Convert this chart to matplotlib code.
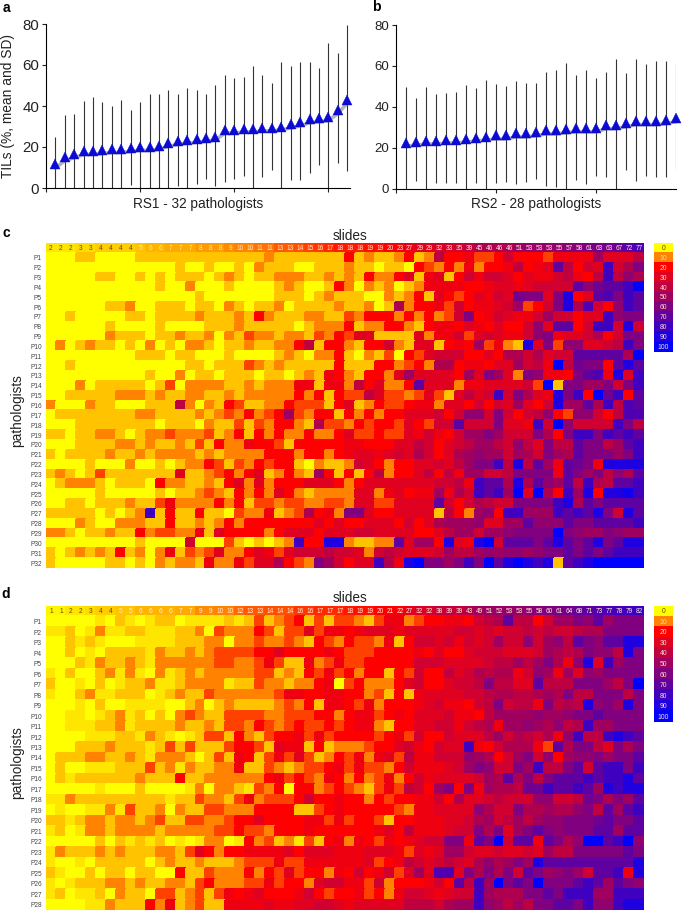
import numpy as np
import matplotlib
matplotlib.use("Agg")
import matplotlib.pyplot as plt
from matplotlib.colors import LinearSegmentedColormap
from matplotlib.transforms import ScaledTranslation

plt.rcParams['font.family'] = ['Liberation Sans', 'DejaVu Sans']

W, H = 685, 911

# panel a
a_mean = [11.5, 15, 16.5, 18, 18, 18.5, 19, 19, 19.5, 20, 20, 20.5, 22, 23, 23.5, 24,
          24.5, 25, 28.5, 28.5, 29, 29, 29.5, 29.5, 30, 31, 32, 33.5, 34, 34.5, 38, 43]
a_upper = [25, 35.8, 36, 42.6, 44.4, 42, 40, 42.8, 38, 42, 45.8, 46, 47.6, 46, 48.6, 47.8,
           46, 50, 55, 53.8, 54, 59.7, 55, 51.4, 61.5, 59.3, 61.3, 61.3, 58.5, 70.7, 66, 79.7]
a_lower = [0, 0, 0, 0, 0, 0, 0, 0, 1.5, 0, 0, 0, 0, 1, 0, 2,
           4.3, 1, 3, 4.5, 5.7, 0, 5.3, 9, 0, 4, 4, 7.3, 11.3, 0, 12, 8.4]

# panel b
b_mean = [22.5, 23, 23.5, 23.5, 24, 24, 24.5, 25, 25.5, 26, 26, 27, 27, 27.5,
          28.5, 28.5, 29, 29.5, 29.5, 29.5, 31, 31, 32, 33, 33, 33, 33.5, 34.5]
b_upper = [49.5, 44.5, 49.7, 46.4, 47, 47.2, 50.6, 49.2, 53, 51, 50.3, 52.4, 51.5, 51.5,
           57, 58, 61.2, 55.5, 58, 54, 57, 63.5, 56.3, 63.3, 61, 62.2, 62.2, 61]
b_lower = [0, 4, 0, 3, 3, 3, 0, 3, 0, 3, 3.5, 2.5, 3.5, 4.7,
           1.3, 0.8, 0, 4.4, 2.3, 6, 5.9, 0, 9, 3.6, 6, 5.5, 5.9, 9]

# heatmap column headers (mean per slide)
c_slides = [2, 2, 2, 3, 3, 4, 4, 4, 4, 5, 6, 6, 7, 7, 7, 8, 8, 8, 9, 10, 10, 11, 11, 13, 13, 14, 15, 16, 17, 18,
            18, 18, 19, 19, 20, 23, 27, 29, 29, 32, 33, 35, 39, 45, 46, 46, 46, 51, 53, 53, 53, 55, 57, 58, 61, 63, 63, 67, 72, 77]
d_slides = [1, 1, 2, 2, 3, 4, 4, 5, 5, 6, 6, 6, 6, 7, 7, 9, 9, 10, 10, 12, 13, 13, 14, 14, 14, 16, 16, 17, 17, 17,
            18, 19, 19, 20, 21, 22, 27, 32, 32, 38, 39, 39, 43, 49, 51, 52, 53, 53, 55, 58, 60, 61, 64, 68, 71, 73, 77, 78, 79, 82]
legend_values = [0, 10, 20, 30, 40, 50, 60, 70, 80, 90, 100]

# scores: one char per cell, 0-9a-k = 0,5,...100 and y = 2
c_rows = [
    "0001100001 1111111111 1121111111 4121124128 4453347444 35555a6668",
    "0000000000 0001001001 0211100111 2110110432 4252445845 6e8476g79c",
    "0000011001 0101110121 0112221121 2142246156 1475776465 578548g8b9",
    "0000000000 0100200010 0001210014 2021201255 5544566567 777ebdeegk",
    "0000000000 0000010000 0001110121 1100212416 4346576dcc 6ci46efcge",
    "0000001120 0111011021 0112011112 1120192445 3745567a34 7ci9f74bge",
    "0010000011 0111121112 1421112211 3244424242 37c4576557 a77466gbcc",
    "0000001000 0100001112 1111101222 4122442145 546546447b 6ee47gg7i7",
    "0000002111 0112112021 3221221324 3661111625 573676557b c5667947cc",
    "0201211010 2010221011 2112248144 2144721661 454a3521i6 c3bb6678gc",
    "0000000001 1101100010 0001210224 1021304367 7744649979 677eeeee9k",
    "0010000000 0000110111 3212111114 1114423429 9455466a78 5k8dcc4eie",
    "0000000000 1002011011 1011012154 214426a666 64a6ca62cb 554cef5i6g",
    "0002011111 0130222211 2122255155 2846224e66 6255666673 k1ccaac7cg",
    "0011111222 1211221121 2222242414 3386332363 16867g7c96 5icg4kdg4e",
    "2000211000 1118202143 1122433314 6124334552 6647476a64 7iaae9g8fe",
    "0111111112 2111121232 4234a32441 4242446667 47bb7c7478 b43bb748ff",
    "0001111111 1011102113 1324421933 2434436437 7e777c665g 7kb7777gc8",
    "1101122101 2232223124 1424224224 6334336575 47aaca777c 94cggcgege",
    "0001111221 2112131422 5443144444 5544466874 678aa87b86 c88ecc8aeg",
    "1011112112 1222212122 2244424424 5665676974 69abaa7a97 ca9ecccacg",
    "0000100020 0101224313 2434410211 2764244667 68accg8i8e a5edc5iiii",
    "1210131111 1116112342 4612421a41 4148244684 85aa778ccc c5ecac8b9e",
    "0122210111 0422112146 2624446664 2466666667 785gee9i9e bae8g98eeg",
    "0000010000 0101123214 2426421222 266256455a 597gegak6k 94gai4iijg",
    "0011011121 1352222424 1332332233 266336666e 7479877ccc cgi9eceeee",
    "1111101012 g141141103 2251239452 cc64466661 842ab4ggaa agegeic7ie",
    "0002100222 1141121242 4444444646 4466647469 aaab66aaeb bbecceeeeg",
    "2210112114 2332251644 4424666466 6776666446 8aa7aabccc ckcbaacbaa",
    "0000000001 0000700031 01012g44ii 21122e6aa4 i65ik7eeec eieceiceii",
    "1012121412 0251323622 4653677787 7627876667 a88ababbab ccececeggg",
    "1000001101 0212215225 3669432ca7 466g95ikcc acgckeikig i1egikkkkk",
]
d_rows = [
    "00000y01y0 y110yyyy1y 1312341313 3213552344 554789e884 7aacbeaccc",
    "yy10y2yy11 yyy1120322 2431336355 4566656666 6776767787 877899cccc",
    "001y1y000y yyy1112202 2322321432 4332514776 75767a77b7 ab8ecbeeii",
    "0010y01111 y211212333 3446444454 3334444546 4467776667 a989cbb8ic",
    "0001y21121 y222222332 2353115235 3344444777 6666788a8a c95bi6gacc",
    "y010012y2y 02y1212222 2331214353 4244143744 867989957b a5a6bacccc",
    "100y010y11 2yy12222y1 1322122450 3422246744 6778c8866e 888ccca8ck",
    "y0012yy111 0y12113222 2223554455 4423141566 6677899889 a9c88ccc8c",
    "000y0100yy yy00120121 1112324155 4352444567 55478c7885 c898ibcaic",
    "00yy0y12y1 0102321133 3322333442 4553454666 75548aaaab aabccecccc",
    "00yyy112y1 1112112133 2432343343 4552144667 757895aaba 9b89gaaccc",
    "0000yyy11y 21y0y13314 2134453534 4443453744 76668a7987 95bg88gige",
    "0001112111 y131311134 4316551412 2234467547 66g5479995 3e9cc86c9c",
    "0111221121 y222101315 4135363124 3525638557 77ba947ac7 b4abbcacce",
    "0100yyy111 312y211225 1132123345 3533247555 67acb77cag 88ce7eggcg",
    "01y1111112 1114112222 2245343254 2423524756 6667a9e9c8 ceeegeggie",
    "00000y0001 0000y20221 y324044234 321353874a c4c5a998dd geegeaigii",
    "yy21111111 11y1132213 5233347445 4424344557 496678777b b778dc9cae",
    "0y00yy2y31 1202113322 2444411345 4444432556 666b977c99 a99bc8eaeg",
    "11y1221221 2311332234 4644445535 3443144555 6679a78a8a bbcccdecce",
    "y10y221222 2122222334 3324445444 4445648555 677c9c6ace cbccceeaee",
    "00000101y1 y10y0y220y 42312y3145 2543545677 cc5eck7ee5 ec9bkkegkb",
    "y211121211 1221364244 5555646665 5566653656 aa76676676 a88cccccec",
    "y00y011111 0121121112 3335335555 5563458767 8769b9acai eeeeeeeeei",
    "1y00101101 1004113222 4243634425 4745736a6f f6c9c9c7ec abca7eeg5i",
    "y0y1112212 1122134222 3353442677 5537244457 4e8gakceck cccegeaecb",
    "y10yy10211 0331231354 5644457434 4534257765 677ga999cc ecgggaaggg",
    "0000yy2111 4251231155 5565566776 5666668887 9aagba8a8c ceecgbbgii",
]

LEVELS = "0123456789abcdefghijk"


def decode(rows):
    out = []
    for row in rows:
        row = row.replace(" ", "")
        out.append([2 if ch == "y" else LEVELS.index(ch) * 5 for ch in row])
    return np.array(out, dtype=float)


cmap = LinearSegmentedColormap.from_list(
    "tils", [(0, "#ffff00"), (0.1, "#ff8000"), (0.2, "#ff0000"), (1, "#0000ff")])

fig = plt.figure(figsize=(W / 100, H / 100), dpi=100)


def px_axes(x0, y0, x1, y1):
    return fig.add_axes([x0 / W, 1 - y1 / H, (x1 - x0) / W, (y1 - y0) / H])


def draw_means(box, mean, upper, lower, xmax, xticks, label, tick_size):
    ax = px_axes(*box)
    xs = np.arange(1, len(mean) + 1)
    ax.vlines(xs, lower, upper, color="#333333", lw=0.8, zorder=1)
    shadow = ax.transData + ScaledTranslation(0, -2.5 / 72, fig.dpi_scale_trans)
    ax.plot(xs, mean, color="#777777", lw=2.6, alpha=0.55, transform=shadow, zorder=2, clip_on=False)
    ax.plot(xs, mean, ls="none", marker="^", ms=7.8, mfc="#0a0ad2", mec="#0a0ad2", mew=0.3, zorder=3, clip_on=False)
    ax.set_xlim(0, xmax)
    ax.set_ylim(0, 80)
    ax.set_yticks([0, 20, 40, 60, 80])
    ax.set_xticks(xticks)
    ax.set_xticklabels([])
    ax.tick_params(length=3, width=0.8, labelsize=tick_size, pad=2, colors="#222222")
    ax.spines["top"].set_visible(False)
    ax.spines["right"].set_visible(False)
    fig.text((box[0] + box[2]) / 2 / W + (0.0 if xmax > 30 else 0.0), 1 - 204 / H, label, fontsize=9.8,
             color="#222222", ha="center", va="center")
    return ax


ax_a = draw_means((46, 24, 350, 188), a_mean, a_upper, a_lower, 32.3, [0, 10, 20, 30], "RS1 - 32 pathologists", 10.8)
ax_b = draw_means((396, 25, 676, 188.7), b_mean, b_upper, b_lower, 28, [0, 10, 20], "RS2 - 28 pathologists", 9.5)
fig.text(8.5 / W, 1 - 106 / H, "TILs (%, mean and SD)", rotation=90, fontsize=9.9, color="#222222", ha="center", va="center")


def draw_heat(box, legend_box, slides, grid, title_y, path_y):
    data = np.vstack([slides, grid])
    ax = px_axes(*box)
    ax.pcolormesh(np.arange(data.shape[1] + 1), np.arange(data.shape[0] + 1), data,
                  cmap=cmap, vmin=0, vmax=100, edgecolors="face", linewidth=0.1)
    ax.set_xlim(0, data.shape[1])
    ax.set_ylim(data.shape[0], 0)
    ax.set_xticks([])
    ax.set_yticks(np.arange(1, data.shape[0]) + 0.5)
    ax.set_yticklabels(["P%d" % (i + 1) for i in range(len(grid))], fontsize=4.7, color="#444444")
    ax.tick_params(length=0, pad=3)
    for s in ax.spines.values():
        s.set_visible(False)
    for i, v in enumerate(slides):
        ax.text(i + 0.5, 0.55, str(v), ha="center", va="center", fontsize=4.7,
                color="#5a4a00" if v < 5 else "#ffe9d8")

    leg = px_axes(*legend_box)
    leg.pcolormesh(np.arange(2), np.arange(len(legend_values) + 1), np.array(legend_values).reshape(-1, 1),
                   cmap=cmap, vmin=0, vmax=100, edgecolors="face", linewidth=0.1)
    leg.set_ylim(len(legend_values), 0)
    leg.axis("off")
    for i, v in enumerate(legend_values):
        leg.text(0.5, i + 0.55, str(v), ha="center", va="center", fontsize=4.9,
                 color="#5a4a00" if v == 0 else "#ffd9c8")

    fig.text(350 / W, 1 - title_y / H, "slides", fontsize=9.8, color="#222222", ha="center", va="center")
    fig.text(17 / W, 1 - path_y / H, "pathologists", rotation=90, fontsize=9.8, color="#222222", ha="center", va="center")


draw_heat((46, 243, 644, 568), (654, 243, 673, 352), c_slides, decode(c_rows), 236, 411)
draw_heat((46, 606, 644, 910), (654, 606, 673, 722), d_slides, decode(d_rows), 598, 763)

for letter, x, y in [("a", 6, 8), ("b", 376, 7), ("c", 6, 233), ("d", 6, 594)]:
    fig.text(x / W, 1 - y / H, letter, fontsize=10, fontweight="bold", ha="center", va="center")

fig.savefig("out.png", dpi=100)
